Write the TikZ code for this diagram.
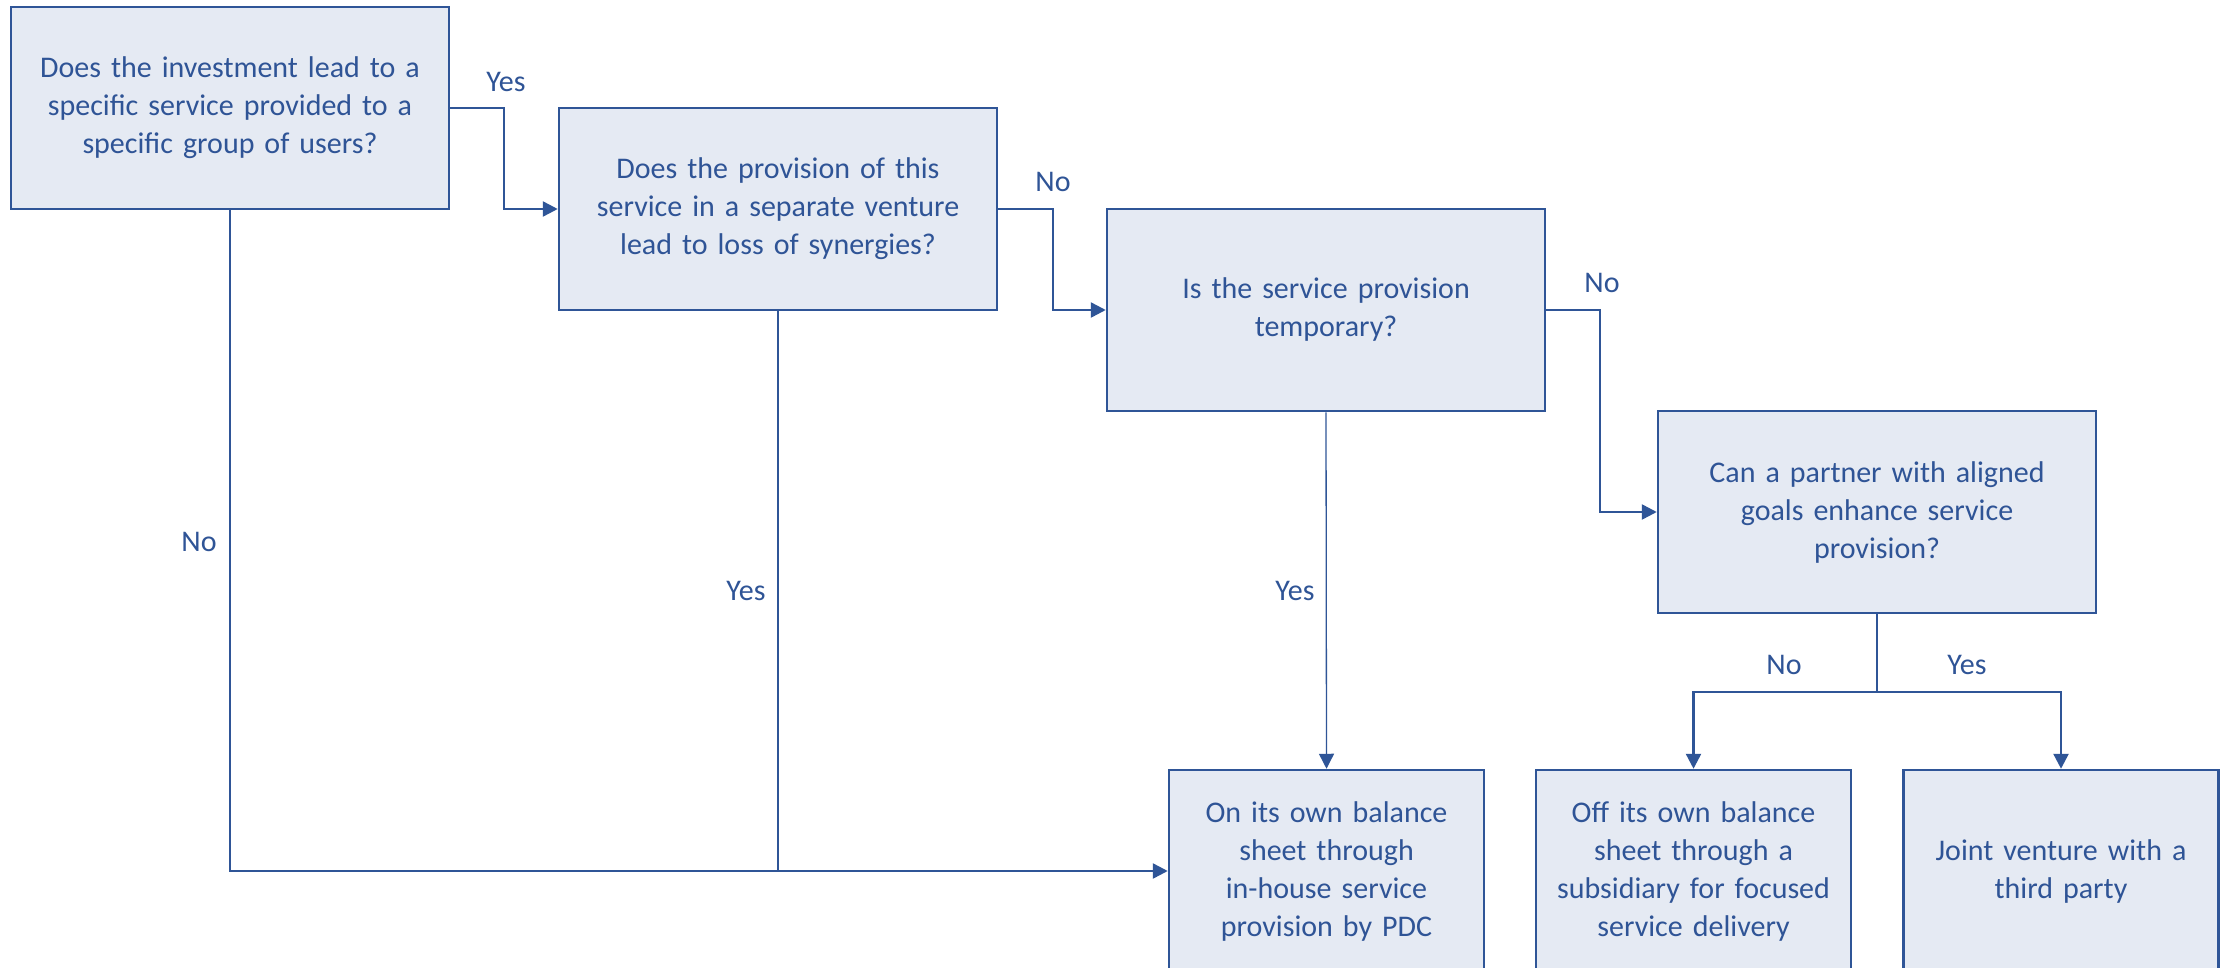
\documentclass[tikz,border=0pt]{standalone}
\usepackage{fontspec}
\setmainfont{Carlito}
\usetikzlibrary{arrows.meta}
\definecolor{edgeblue}{HTML}{2F5597}
\definecolor{txtblue}{HTML}{2F5496}
\definecolor{boxfill}{HTML}{E5EAF3}
\tikzset{
  qbox/.style={draw=edgeblue, fill=boxfill, line width=2.5pt, minimum width=438pt, minimum height=202pt,
    text width=400pt, align=center, text=txtblue, font=\fontsize{30}{38}\selectfont, inner sep=0pt},
  abox/.style={qbox, minimum width=315pt, text width=290pt},
  conn/.style={draw=edgeblue, line width=2.5pt},
  thinconn/.style={draw=edgeblue, line width=1.3pt},
  arr/.style={-{Triangle[length=15pt,width=15pt]}},
  lbl/.style={text=txtblue, font=\fontsize{30}{38}\selectfont, inner sep=0pt}
}
\begin{document}
\begin{tikzpicture}[x=1pt,y=-1pt]
\useasboundingbox (0,0) rectangle (2221,968);
\clip (0,0) rectangle (2221,968);
\fill[white] (0,0) rectangle (2221,968);
% question boxes
\node[qbox] (b1) at (230,108) {Does the investment lead to a\\specific service provided to a\\specific group of users?};
\node[qbox] (b2) at (778,209) {Does the provision of this\\service in a separate venture\\lead to loss of synergies?};
\node[qbox] (b3) at (1326,310) {Is the service provision\\temporary?};
\node[qbox] (b4) at (1877,512) {Can a partner with aligned\\goals enhance service\\provision?};
% outcome boxes
\node[abox] (b5) at (1326.5,871) {On its own balance\\sheet through\\in-house service\\provision by PDC};
\node[abox] (b6) at (1693.5,871) {Off its own balance\\sheet through a\\subsidiary for focused\\service delivery};
\node[abox] (b7) at (2061,871) {Joint venture with a\\third party};
% coordinates
\coordinate (j1) at (504,108);
\coordinate (j2) at (1053,209);
\coordinate (j3) at (1600,310);
\coordinate (split) at (1877,692);
% connectors
\draw[conn,arr] (b1.east) -- (j1) |- (b2.west);
\draw[conn,arr] (b2.east) -- (j2) |- (b3.west);
\draw[conn,arr] (b3.east) -- (j3) |- (b4.west);
\draw[conn] (b4.south) -- (split);
\draw[conn,arr] (split) -| (b6.north);
\draw[conn,arr] (split) -| (b7.north);
\draw[thinconn,arr] (b3.south) -- (b5.north);
\draw[conn,arr] (b1.south) |- (b5.west);
\draw[thinconn] (b2.south) -- (b2.south |- b5.west);
% labels
\node[lbl] (l1) at (506,82) {Yes};
\node[lbl] (l2) at (1053,182) {No};
\node[lbl] (l3) at (1602,283) {No};
\node[lbl] (l4) at (199,542) {No};
\node[lbl] (l5) at (746,591) {Yes};
\node[lbl] (l6) at (1295,591) {Yes};
\node[lbl] (l7) at (1784,665) {No};
\node[lbl] (l8) at (1967,665) {Yes};
\end{tikzpicture}
\end{document}
